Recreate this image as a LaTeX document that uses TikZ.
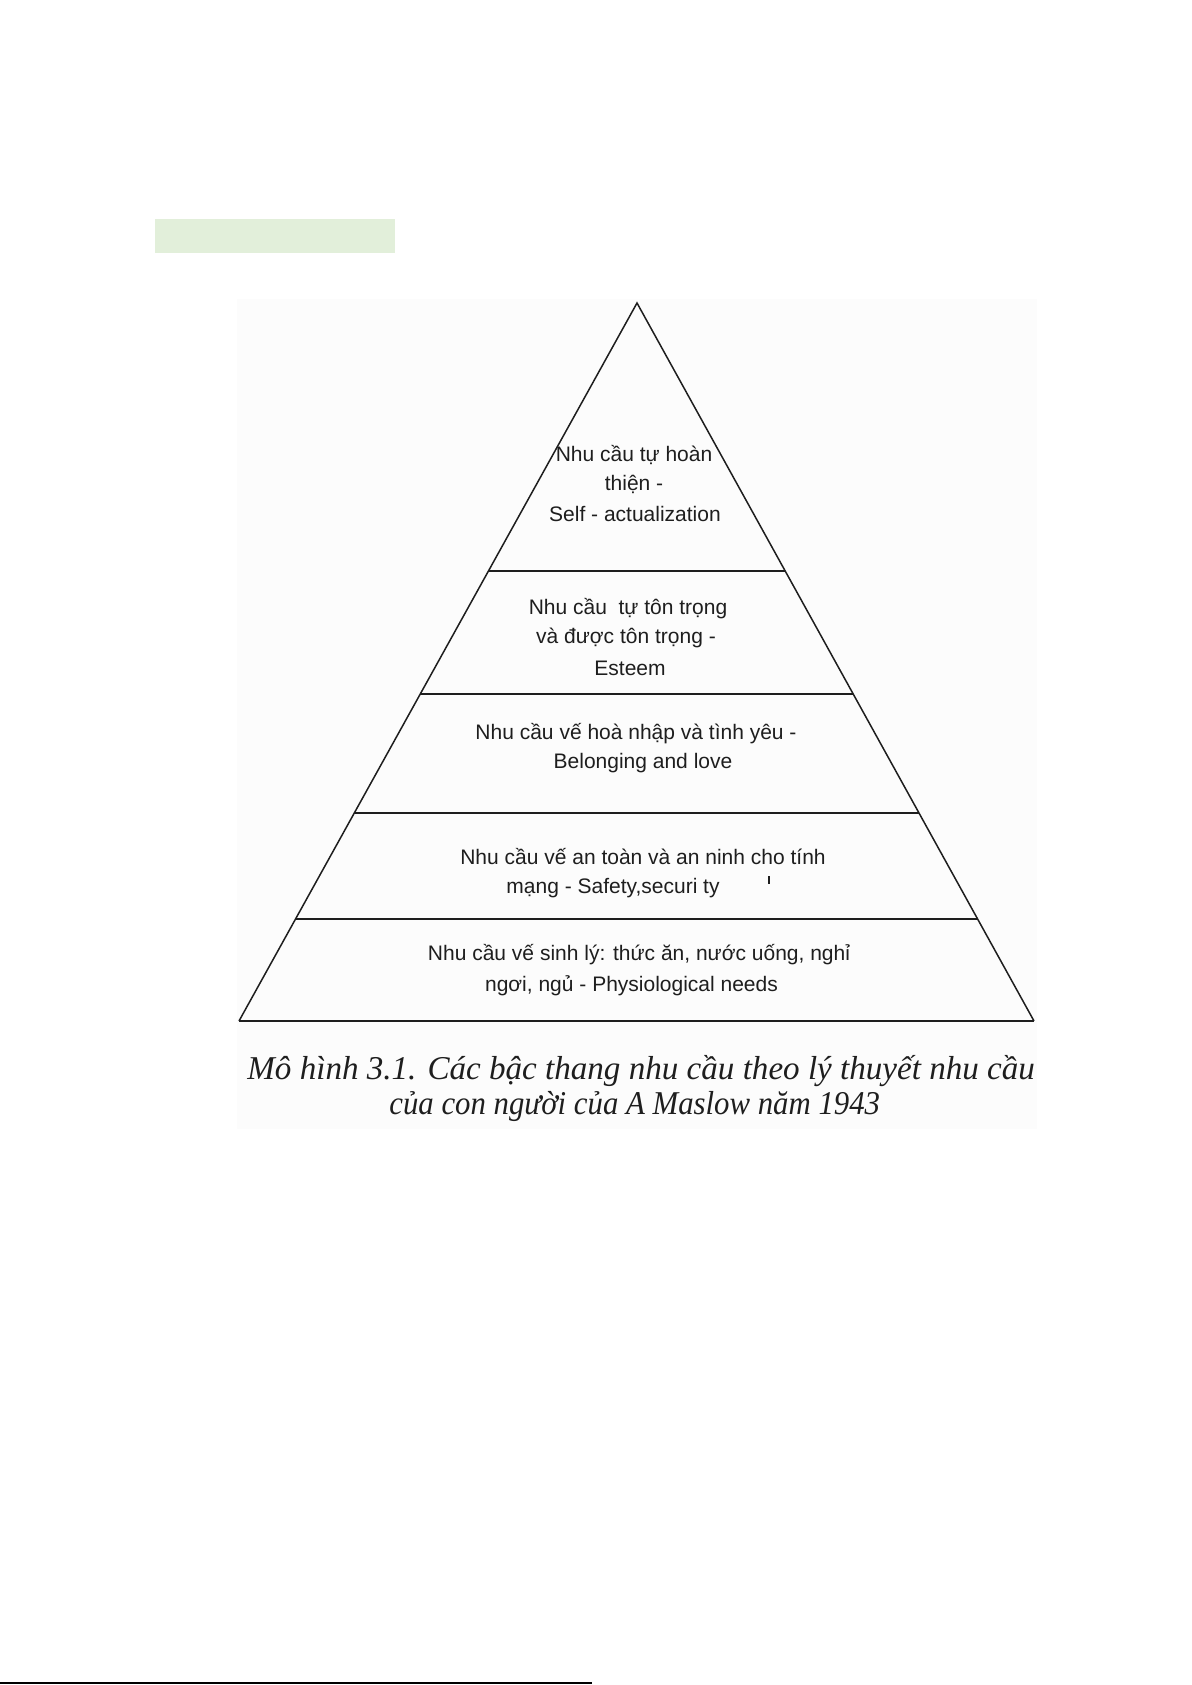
\documentclass[tikz,border=0pt]{standalone}
\usepackage{fontspec}
\setmainfont{Liberation Sans}
\newfontfamily\capfont{Liberation Serif}
\usetikzlibrary{calc}
\definecolor{hlgreen}{HTML}{E2EFDA}
\definecolor{scanbg}{HTML}{FCFCFC}
\definecolor{ink}{HTML}{1E1E1E}
\tikzset{
  lbl/.style={inner sep=0pt, font=\fontsize{10.5}{14}\selectfont, text=ink},
  caplbl/.style={inner sep=0pt, anchor=west, font=\capfont\itshape\fontsize{16}{18}\selectfont, text=ink},
  side/.style={draw=ink, line width=0.75pt},
  level/.style={draw=ink, line width=1pt}
}
\begin{document}
\begin{tikzpicture}[x=0.5pt, y=-0.5pt]
\useasboundingbox (0,0) rectangle (1191,1685);
\fill[white] (0,0) rectangle (1191,1685);
% highlight bar
\fill[hlgreen] (155,219) rectangle (395,253);
% scanned figure background
\fill[scanbg] (237,299) rectangle (1037,1129);
% pyramid
\coordinate (apex) at (637,303);
\coordinate (bl) at (239,1021);
\coordinate (br) at (1034,1021);
\draw[side] (bl) -- (apex) -- (br);
\draw[level] (bl) -- (br);
\foreach \t/\n in {0.3733/l1, 0.5446/l2, 0.7103/l3, 0.8579/l4}{
  \coordinate (\n w) at ($(apex)!\t!(bl)$);
  \coordinate (\n e) at ($(apex)!\t!(br)$);
  \draw[level] (\n w) -- (\n e);
}
% tier texts
\node[lbl] (t1a) at (634,455) {Nhu cầu tự hoàn};
\node[lbl] (t1b) at (634,484) {thiện -};
\node[lbl] (t1c) at (635,514) {Self - actualization};
\node[lbl] (t2a) at (628,609) {Nhu cầu\ \ tự tôn trọng};
\node[lbl] (t2b) at (626,638) {và được tôn trọng -};
\node[lbl] (t2c) at (630,668) {Esteem};
\node[lbl] (t3a) at (636,734) {Nhu cầu vế hoà nhập và tình yêu -};
\node[lbl] (t3b) at (643,763) {Belonging and love};
\node[lbl] (t4a) at (643,857) {Nhu cầu vế an toàn và an ninh cho tính};
\node[lbl] (t4b) at (613,888) {mạng - Safety,securi ty};
\node[lbl] (t5a) at (639,955) {Nhu cầu vế sinh lý: thức ăn, nước uống, nghỉ};
\node[lbl] (t5b) at (631.5,986) {ngơi, ngủ - Physiological needs};
% small scan mark
\coordinate (tk1) at (769,876);
\coordinate (tk2) at (769,884);
\draw[ink, line width=0.6pt] (tk1) -- (tk2);
% caption
\node[caplbl] (cap1) at (247,1071) {\scalebox{1.034}[1.04]{Mô hình 3.1. Các bậc thang nhu cầu theo lý thuyết nhu cầu}};
\node[caplbl] (cap2) at (389,1106) {\scalebox{0.962}[1.04]{của con người của A Maslow năm 1943}};
% footer rule
\coordinate (f1) at (0,1683);
\coordinate (f2) at (592,1683);
\draw[black, line width=1pt] (f1) -- (f2);
\end{tikzpicture}
\end{document}
